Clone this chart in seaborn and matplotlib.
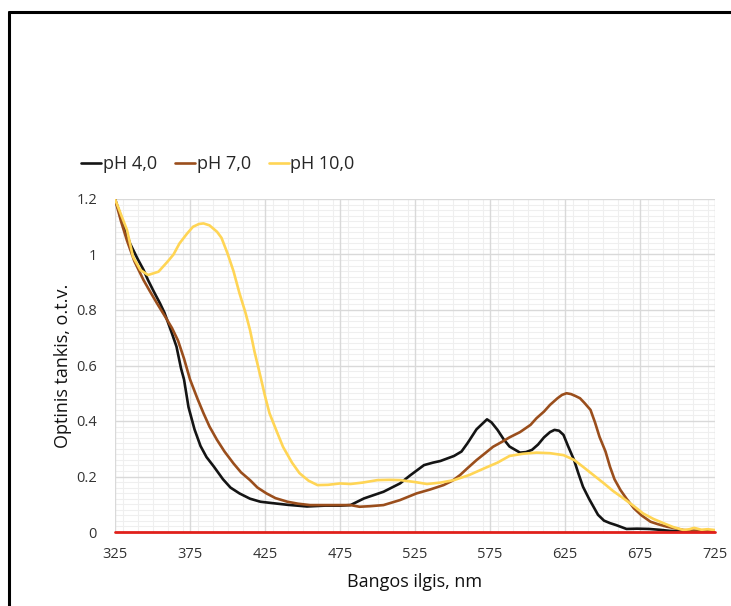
import numpy as np
import pandas as pd
import matplotlib
matplotlib.use("Agg")
import matplotlib.pyplot as plt
from matplotlib.ticker import MultipleLocator, FuncFormatter
import seaborn as sns

# ---- data ----
wl_ph4 = [325, 330, 335, 340, 344, 347, 351, 355, 358, 361, 363, 366, 369, 371, 374, 378, 382,
          386, 391, 397, 402, 408, 415, 422, 430, 440, 453, 465, 475, 482, 491, 504, 515, 522,
          531, 537, 542, 551, 556, 560, 566, 573, 576, 580, 584, 588, 595, 599, 603, 607, 611,
          615, 618, 621, 624, 627, 631, 634, 637, 641, 644, 647, 651, 655, 659, 666, 673, 681,
          688, 695, 705, 715, 725]
v_ph4 = [1.20, 1.12, 1.04, 0.985, 0.945, 0.908, 0.865, 0.824, 0.79, 0.745, 0.715, 0.668, 0.59,
         0.55, 0.45, 0.37, 0.31, 0.27, 0.235, 0.19, 0.16, 0.139, 0.12, 0.109, 0.104, 0.098,
         0.092, 0.095, 0.095, 0.097, 0.121, 0.145, 0.175, 0.205, 0.241, 0.25, 0.256, 0.274,
         0.29, 0.32, 0.37, 0.406, 0.395, 0.368, 0.335, 0.308, 0.286, 0.288, 0.296, 0.315, 0.341,
         0.36, 0.368, 0.365, 0.35, 0.31, 0.26, 0.21, 0.163, 0.12, 0.091, 0.062, 0.041, 0.032,
         0.025, 0.011, 0.012, 0.011, 0.008, 0.004, 0.003, 0.002, 0.002]

wl_ph7 = [325, 329, 333, 338, 344, 348, 353, 358, 363, 367, 371, 375, 380, 384, 388, 393, 398,
          404, 409, 415, 420, 426, 432, 440, 447, 455, 464, 473, 482, 488, 495, 504, 515, 526,
          535, 544, 550, 555, 560, 566, 572, 577, 583, 588, 595, 602, 606, 611, 615, 620, 623,
          626, 629, 632, 635, 638, 642, 645, 648, 652, 655, 658, 662, 666, 671, 676, 682, 687,
          693, 698, 704, 710, 717, 725]
v_ph7 = [1.20, 1.12, 1.05, 0.975, 0.908, 0.87, 0.824, 0.78, 0.735, 0.69, 0.625, 0.55, 0.48,
         0.428, 0.38, 0.332, 0.29, 0.247, 0.215, 0.187, 0.16, 0.139, 0.122, 0.109, 0.102, 0.097,
         0.097, 0.097, 0.097, 0.091, 0.093, 0.097, 0.115, 0.139, 0.153, 0.169, 0.185, 0.205,
         0.23, 0.259, 0.285, 0.307, 0.325, 0.341, 0.36, 0.386, 0.41, 0.434, 0.458, 0.482, 0.494,
         0.5, 0.497, 0.49, 0.482, 0.465, 0.44, 0.395, 0.343, 0.29, 0.235, 0.19, 0.151, 0.12,
         0.085, 0.06, 0.037, 0.028, 0.019, 0.014, 0.007, 0.005, 0.004, 0.003]

wl_ph10 = [325, 330, 333, 337, 342, 347, 354, 360, 364, 368, 373, 377, 381, 384, 388, 393, 396,
           400, 404, 408, 412, 415, 418, 422, 425, 428, 433, 437, 443, 448, 454, 460, 467, 475,
           482, 490, 500, 508, 515, 525, 533, 542, 551, 561, 571, 580, 588, 597, 606, 615, 624,
           631, 637, 644, 651, 657, 664, 671, 677, 684, 691, 697, 704, 708, 711, 716, 720, 725]
v_ph10 = [1.20, 1.13, 1.088, 0.992, 0.944, 0.926, 0.938, 0.974, 1.0, 1.04, 1.075, 1.1, 1.11,
          1.112, 1.105, 1.082, 1.06, 1.004, 0.94, 0.86, 0.79, 0.728, 0.65, 0.56, 0.49, 0.428,
          0.36, 0.307, 0.25, 0.212, 0.185, 0.169, 0.17, 0.175, 0.173, 0.178, 0.187, 0.188,
          0.187, 0.18, 0.173, 0.178, 0.187, 0.205, 0.229, 0.25, 0.274, 0.282, 0.286, 0.284,
          0.277, 0.26, 0.235, 0.205, 0.175, 0.148, 0.121, 0.093, 0.067, 0.047, 0.031, 0.018,
          0.007, 0.01, 0.015, 0.008, 0.01, 0.007]

series_names = ["pH 4,0", "pH 7,0", "pH 10,0"]
series_colors = ["#141414", "#9A4E1C", "#FFD555"]
x_ticks = [325, 375, 425, 475, 525, 575, 625, 675, 725]
y_ticks = [0, 0.2, 0.4, 0.6, 0.8, 1.0, 1.2]

df = pd.concat([
    pd.DataFrame({"wl": wl_ph4, "A": v_ph4, "s": series_names[0]}),
    pd.DataFrame({"wl": wl_ph7, "A": v_ph7, "s": series_names[1]}),
    pd.DataFrame({"wl": wl_ph10, "A": v_ph10, "s": series_names[2]}),
], ignore_index=True)

sns.set_theme(style="white")
plt.rcParams["font.family"] = ["Open Sans", "DejaVu Sans"]

W, H = 731, 606
fig = plt.figure(figsize=(W / 100, H / 100), dpi=100)
ax = fig.add_axes([115 / W, 1 - 532 / H, 600 / W, 333 / H])

sns.lineplot(data=df, x="wl", y="A", hue="s", hue_order=series_names,
             palette=series_colors, linewidth=1.9, ax=ax, sort=False, zorder=3)

ax.set_xlim(325, 725)
ax.set_ylim(0, 1.2)
ax.set_xticks(x_ticks)
ax.set_yticks(y_ticks)
ax.xaxis.set_minor_locator(MultipleLocator(10))
ax.yaxis.set_minor_locator(MultipleLocator(0.02))
ax.yaxis.set_major_formatter(FuncFormatter(lambda v, p: "0" if v == 0 else ("%g" % v)))
ax.grid(which="major", visible=False)
ax.grid(which="minor", color="#efefef", linewidth=0.8)
ax.set_axisbelow(True)
for t in x_ticks:
    ax.axvline(t, color="#d9d9d9", linewidth=1.0, zorder=1)
for t in y_ticks[1:]:
    ax.axhline(t, color="#d9d9d9", linewidth=1.0, zorder=1)
for s in ["top", "bottom", "left", "right"]:
    ax.spines[s].set_visible(False)
ax.axhline(0, color="#E0201B", linewidth=2.0, zorder=4, clip_on=False)
ax.tick_params(axis="both", which="both", length=0, labelsize=10.5, colors="#333333")
ax.tick_params(axis="y", pad=13)
ax.tick_params(axis="x", pad=11)

ax.set_xlabel("Bangos ilgis, nm", fontsize=13, color="#111111")
ax.set_ylabel("Optinis tankis, o.t.v.", fontsize=13, color="#111111")
ax.xaxis.label.set_va("center")
ax.yaxis.label.set_va("center")
ax.xaxis.set_label_coords(0.5, (532 - 582) / 333)
ax.yaxis.set_label_coords((63 - 115) / 600, 0.5)

handles, labels = ax.get_legend_handles_labels()
ax.legend(handles=handles, labels=labels, loc="center left",
          bbox_to_anchor=(81 / W, 1 - 164 / H), bbox_transform=fig.transFigure,
          ncol=3, frameon=False, fontsize=13, handlelength=1.1, handletextpad=0.1,
          columnspacing=1.0, borderaxespad=0, borderpad=0)

# outer frame (left and top edges)
fig.add_artist(plt.Line2D([8.5 / W, 8.5 / W], [0, 1 - 11.5 / H], transform=fig.transFigure,
                          color="black", linewidth=2.2))
fig.add_artist(plt.Line2D([8.5 / W, 1], [1 - 11.5 / H, 1 - 11.5 / H], transform=fig.transFigure,
                          color="black", linewidth=2.2))

fig.savefig("out.png", dpi=100)
